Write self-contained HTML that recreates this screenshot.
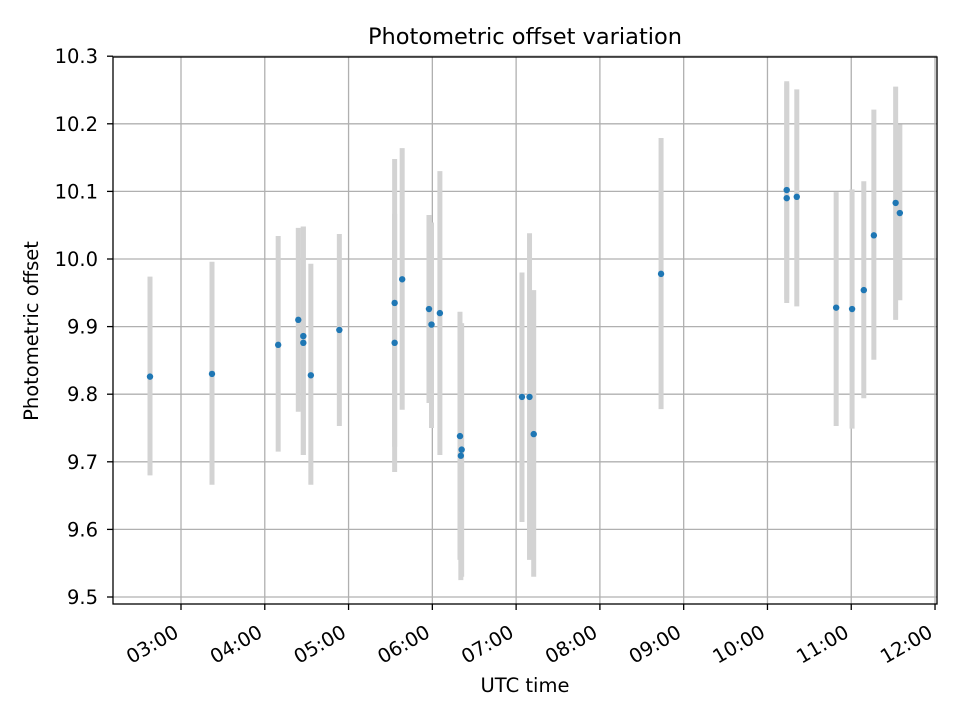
<!DOCTYPE html>
<html><head><meta charset="utf-8"><style>
html,body{margin:0;padding:0;background:#fff;}
svg{display:block;font-family:"DejaVu Sans","Liberation Sans",sans-serif;}
</style></head><body>
<svg id="chart" width="960" height="720" viewBox="0 0 960 720">
<text x="525" y="44" text-anchor="middle" font-size="22.5">Photometric offset variation</text>
<text x="525" y="692" text-anchor="middle" font-size="19.5">UTC time</text>
<text transform="translate(38,331) rotate(-90)" text-anchor="middle" font-size="19.5">Photometric offset</text>
<g id="grid"></g><g id="bars"></g><g id="pts"></g><g id="axes"></g>
</svg>
<script>
const times=[2.63,3.37,4.16,4.40,4.46,4.46,4.55,4.89,5.55,5.55,5.64,5.96,5.99,6.09,6.33,6.35,6.34,7.07,7.16,7.21,8.73,10.23,10.23,10.35,10.82,11.01,11.15,11.27,11.53,11.58];
const values=[9.826,9.830,9.873,9.910,9.886,9.876,9.828,9.895,9.876,9.935,9.970,9.926,9.903,9.920,9.738,9.718,9.709,9.796,9.796,9.741,9.978,10.102,10.090,10.092,9.928,9.926,9.954,10.035,10.083,10.068];
const upper=[9.974,9.996,10.034,10.046,10.048,10.048,9.993,10.037,10.067,10.148,10.164,10.065,10.054,10.130,9.922,9.905,9.905,9.980,10.038,9.954,10.179,10.263,10.260,10.251,10.099,10.103,10.115,10.221,10.255,10.199];
const lower=[9.680,9.666,9.715,9.774,9.710,9.710,9.666,9.753,9.685,9.722,9.777,9.787,9.750,9.710,9.555,9.530,9.525,9.611,9.555,9.530,9.778,9.940,9.935,9.930,9.753,9.749,9.794,9.851,9.910,9.939];
const yTicks=[9.5,9.6,9.7,9.8,9.9,10.0,10.1,10.2,10.3];
const xTicks=[3,4,5,6,7,8,9,10,11,12];
const L=113,R=937,T=57,B=604;
const X=h=>181+(h-3)*83.78;
const Y=v=>259-(v-10)*676;
const NS="http://www.w3.org/2000/svg";
function mk(tag,parent,attrs){const e=document.createElementNS(NS,tag);for(const k in attrs)e.setAttribute(k,attrs[k]);document.getElementById(parent).appendChild(e);return e;}
yTicks.forEach(t=>{
 const g=mk('line','grid',{x1:L,x2:R,y1:Y(t),y2:Y(t),stroke:'#b0b0b0','stroke-width':1.3});
 
 
 const tk=mk('line','axes',{x1:L-6,x2:L,y1:Y(t),y2:Y(t),stroke:'#000','stroke-width':1.3});
 
 
 const tx=mk('text','axes',{x:L-15,y:Y(t)+7,'text-anchor':'end','font-size':19.5});
 tx.textContent=t.toFixed(1);
 
 
});
xTicks.forEach(h=>{
 const x=X(h);
 const g=mk('line','grid',{x1:x,x2:x,y1:T,y2:B,stroke:'#b0b0b0','stroke-width':1.3});
 
 
 const tk=mk('line','axes',{x1:x,x2:x,y1:B,y2:B+6,stroke:'#000','stroke-width':1.3});
 
 
 const tx=mk('text','axes',{x:x-1,y:B+32,'text-anchor':'end','font-size':19.5,transform:`rotate(-30 ${x-1} ${B+32})`});
 tx.textContent=String(h).padStart(2,'0')+':00';
 
 
});
times.forEach((h,i)=>{
 const b=mk('line','bars',{x1:X(h),x2:X(h),y1:Y(upper[i]),y2:Y(lower[i]),stroke:'#d3d3d3','stroke-width':5});
 
 
 const c=mk('circle','pts',{cx:X(h),cy:Y(values[i]),r:3.2,fill:'#1f77b4'});
 
 
});
const f=mk('rect','axes',{x:L,y:T,width:R-L,height:B-T,fill:'none',stroke:'#000','stroke-width':1.3});


</script>
</body></html>
